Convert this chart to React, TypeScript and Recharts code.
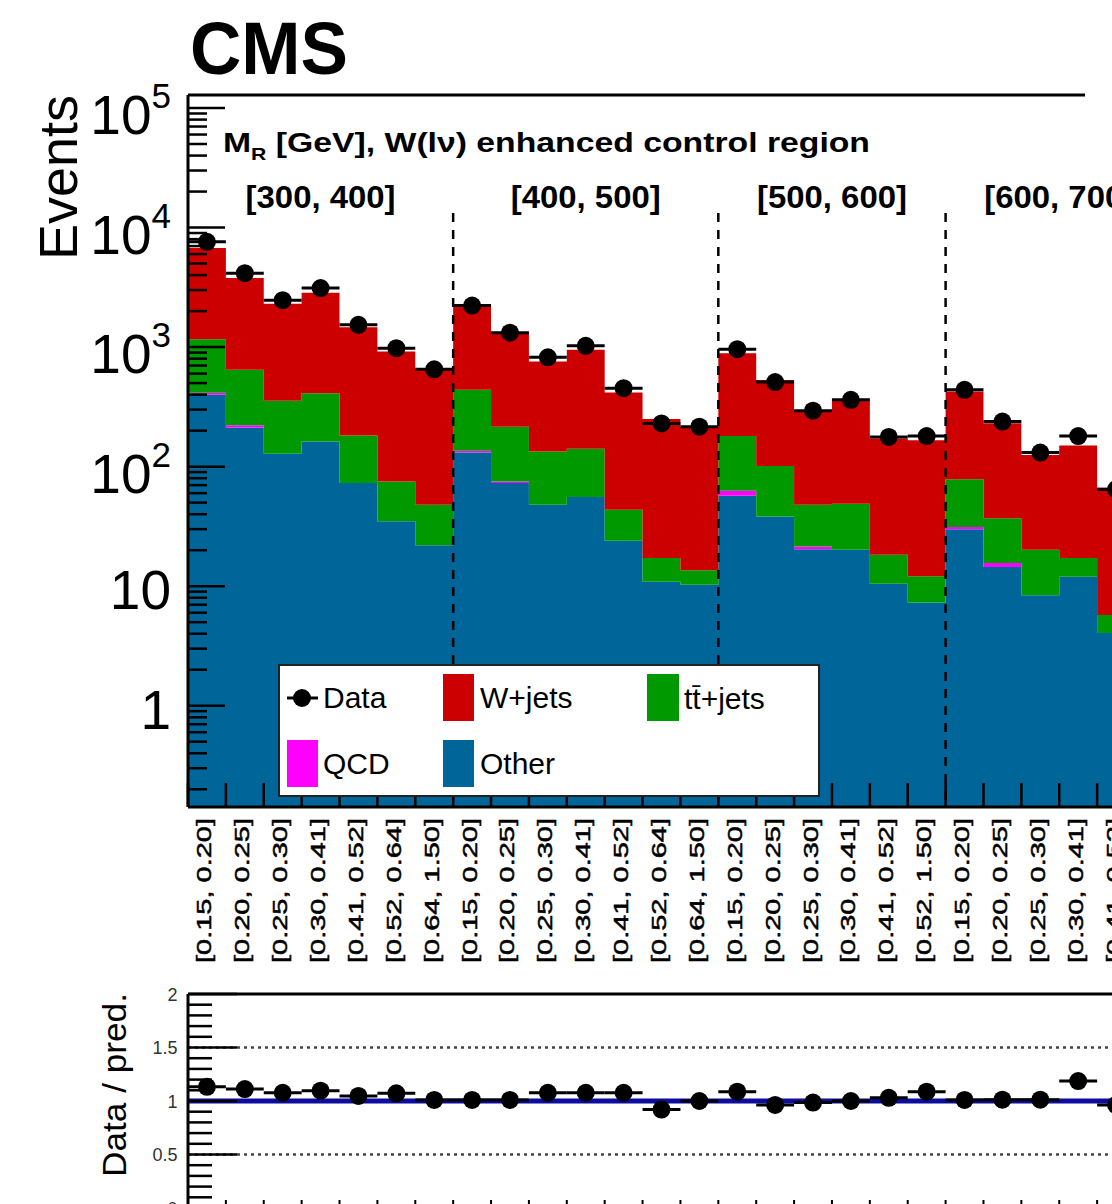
import React from "react";
import {
  ComposedChart,
  Area,
  Scatter,
  ErrorBar,
  XAxis,
  YAxis,
  ReferenceLine,
} from "recharts";

// M_R blocks and the R^2 bins inside each block
const mrBlocks = ["[300, 400]", "[400, 500]", "[500, 600]", "[600, 700]"];
const blockEdges = [0, 7, 14, 20, 26];

const binLabels = [
  "[0.15, 0.20]", "[0.20, 0.25]", "[0.25, 0.30]", "[0.30, 0.41]", "[0.41, 0.52]", "[0.52, 0.64]", "[0.64, 1.50]",
  "[0.15, 0.20]", "[0.20, 0.25]", "[0.25, 0.30]", "[0.30, 0.41]", "[0.41, 0.52]", "[0.52, 0.64]", "[0.64, 1.50]",
  "[0.15, 0.20]", "[0.20, 0.25]", "[0.25, 0.30]", "[0.30, 0.41]", "[0.41, 0.52]", "[0.52, 1.50]",
  "[0.15, 0.20]", "[0.20, 0.25]", "[0.25, 0.30]", "[0.30, 0.41]", "[0.41, 0.52]",
];

// stacked backgrounds (bottom to top)
const other = [400, 213, 128, 162, 73, 35, 22, 131, 73, 48, 55.6, 24, 10.9, 10.3, 57, 38.3, 20.4, 20.2, 10.5, 7.3, 30, 14.5, 8.4, 12, 4.05];
const qcd = [15, 9, 0, 0, 0, 0, 0, 5, 2, 0, 0, 0, 0, 0, 5.8, 0, 1.1, 0, 0, 0, 1.2, 1.1, 0, 0, 0];
const ttjets = [750, 423, 227, 250, 109, 40, 26, 303, 141, 86, 85.4, 19.5, 6.3, 3.3, 118, 62.7, 26.5, 28.7, 7.8, 4.8, 47.4, 21.4, 11.8, 5.2, 1.7];
const wjets = [5585, 3145, 1945, 2440, 1284, 843, 597, 1760, 1084, 623, 807, 374, 233, 202, 708, 429, 250, 313, 154, 154, 346, 194, 105, 133, 61];

const dataCounts = [7590, 4150, 2470, 3120, 1535, 980, 652, 2225, 1320, 822, 1024, 453, 230, 216, 960, 510, 294, 362, 177, 180, 439, 238, 131, 180, 64.5];
const ratio = [1.133, 1.112, 1.077, 1.096, 1.047, 1.072, 1.01, 1.01, 1.01, 1.077, 1.077, 1.077, 0.92, 1.0, 1.087, 0.963, 0.985, 1.0, 1.03, 1.087, 1.01, 1.012, 1.012, 1.186, 0.963];

const yMajorTicks = [1, 10, 100, 1000, 10000, 100000];
const yMajorLabels = [["1", ""], ["10", ""], ["10", "2"], ["10", "3"], ["10", "4"], ["10", "5"]];
const ratioMajorTicks = [0, 0.5, 1, 1.5, 2];
const ratioMajorLabels = ["0", "0.5", "1", "1.5", "2"];

const FONT = '"Liberation Sans", Arial, Helvetica, sans-serif';
const RED = "#cc0000";
const GREEN = "#009900";
const BLUE = "#006699";
const MAGENTA = "#ff00ff";

const PLOT_LEFT = 188;
const BIN_W = 37.88;
const N_SLOTS = 26;
const PLOT_W = N_SLOTS * BIN_W;
const CHART_W = Math.ceil(PLOT_LEFT + PLOT_W) + 10;

const MAIN_TOP = 95;
const MAIN_BOTTOM = 807;
const MAIN_H = 990;
const Y_MIN = 0.1421;
const Y_MAX = 128500;

const RATIO_TOP = 960;
const RATIO_PLOT_TOP = 34;
const RATIO_PLOT_H = 214;
const RATIO_H = 260;

const nBins = binLabels.length;

const stepRows = Array.from({ length: nBins + 1 }, (_, k) => {
  const i = Math.min(k, nBins - 1);
  const o = other[i];
  const q = o + qcd[i];
  const t = q + ttjets[i];
  const w = t + wjets[i];
  return { x: k, otherBand: [Y_MIN, o], qcdBand: [o, q], ttBand: [q, t], wBand: [t, w] };
});

const pointRows = dataCounts.map((d, i) => ({ x: i + 0.5, data: d, xerr: 0.5 }));
const ratioRows = ratio.map((r, i) => ({ x: i + 0.5, ratio: r, xerr: 0.5 }));

const edgeTicks = Array.from({ length: nBins + 1 }, (_, i) => i);
const mainXTicks = [...edgeTicks, ...binLabels.map((_, i) => i + 0.5)];

const yTicks: number[] = [...yMajorTicks];
for (let d = 0.1; d < Y_MAX; d *= 10) {
  for (let m = 2; m <= 9; m++) {
    const v = m * d;
    if (v > Y_MIN && v < Y_MAX) yTicks.push(v);
  }
}
const ratioTicks = Array.from({ length: 21 }, (_, i) => Math.round(i) / 10);

const xPix = (v: number) => PLOT_LEFT + v * BIN_W;

const BinTick = (props: any) => {
  const { x, payload } = props;
  const v = payload.value;
  if (Number.isInteger(v)) {
    return <line x1={x} x2={x} y1={MAIN_BOTTOM} y2={MAIN_BOTTOM - 24} stroke="#000" strokeWidth={2.5} />;
  }
  const label = binLabels[Math.floor(v)];
  return (
    <text
      transform={`translate(${x + 4.5}, ${MAIN_BOTTOM + 11}) rotate(-90)`}
      textAnchor="end"
      fontFamily={FONT}
      fontSize={21}
      textLength={145}
      lengthAdjust="spacingAndGlyphs"
      fill="#000"
      stroke="#000"
      strokeWidth={0.5}
    >
      {label}
    </text>
  );
};

const LogTick = (props: any) => {
  const { y, payload } = props;
  const v = payload.value;
  const idx = yMajorTicks.indexOf(v);
  const major = idx >= 0;
  return (
    <g>
      <line x1={PLOT_LEFT} x2={PLOT_LEFT + (major ? 37 : 19)} y1={y} y2={y} stroke="#000" strokeWidth={2.5} />
      {major && (
        <text x={171} y={y + (yMajorLabels[idx][1] ? 26 : 23)} textAnchor="end" fontFamily={FONT} fontSize={55} fill="#000">
          {yMajorLabels[idx][0]}
          {yMajorLabels[idx][1] && (
            <tspan fontSize={35} dy={-26}>
              {yMajorLabels[idx][1]}
            </tspan>
          )}
        </text>
      )}
    </g>
  );
};

const RatioYTick = (props: any) => {
  const { y, payload } = props;
  const v = payload.value;
  const idx = ratioMajorTicks.indexOf(v);
  const major = idx >= 0;
  return (
    <g>
      <line x1={PLOT_LEFT} x2={PLOT_LEFT + (major ? 49 : 24)} y1={y} y2={y} stroke="#000" strokeWidth={2.5} />
      {major && (
        <text x={177.5} y={y + 6.5} textAnchor="end" fontFamily={FONT} fontSize={18} fill="#333">
          {ratioMajorLabels[idx]}
        </text>
      )}
    </g>
  );
};

const RatioXTick = (props: any) => {
  const { x } = props;
  const bottom = RATIO_PLOT_TOP + RATIO_PLOT_H;
  return <line x1={x} x2={x} y1={bottom} y2={bottom - 8} stroke="#000" strokeWidth={2} />;
};

const Dot = (p: any) => <circle cx={p.cx} cy={p.cy} r={9} fill="#000" />;

const App: React.FC = () => {
  return (
    <div
      style={{
        position: "fixed",
        left: 0,
        top: 0,
        width: 1112,
        height: 1204,
        overflow: "hidden",
        background: "#fff",
      }}
    >
      <div style={{ position: "absolute", left: 0, top: 0 }}>
        <ComposedChart
          width={CHART_W}
          height={MAIN_H}
          data={stepRows}
          margin={{ top: MAIN_TOP, right: CHART_W - PLOT_LEFT - PLOT_W, bottom: 0, left: 0 }}
        >
          <Area type="stepAfter" dataKey="otherBand" fill={BLUE} fillOpacity={1} stroke="none" isAnimationActive={false} />
          <Area type="stepAfter" dataKey="qcdBand" fill={MAGENTA} fillOpacity={1} stroke="none" isAnimationActive={false} />
          <Area type="stepAfter" dataKey="ttBand" fill={GREEN} fillOpacity={1} stroke="none" isAnimationActive={false} />
          <Area type="stepAfter" dataKey="wBand" fill={RED} fillOpacity={1} stroke="none" isAnimationActive={false} />
          {blockEdges.slice(1, -1).map((e) => (
            <ReferenceLine
              key={e}
              segment={[{ x: e, y: 13240 }, { x: e, y: Y_MIN }]}
              stroke="#000"
              strokeWidth={2.5}
              strokeDasharray="9 8"
            />
          ))}
          <ReferenceLine segment={[{ x: 0, y: Y_MAX }, { x: 23.68, y: Y_MAX }]} stroke="#000" strokeWidth={3} />
          <Scatter data={pointRows} dataKey="data" shape={Dot} isAnimationActive={false}>
            <ErrorBar dataKey="xerr" direction="x" width={0} stroke="#000" strokeWidth={3} />
          </Scatter>
          <XAxis
            type="number"
            dataKey="x"
            domain={[0, N_SLOTS]}
            allowDataOverflow
            ticks={mainXTicks}
            interval={0}
            tickLine={false}
            tickSize={0}
            tickMargin={0}
            height={MAIN_H - MAIN_BOTTOM}
            tick={BinTick}
            axisLine={{ stroke: "#000", strokeWidth: 3 }}
          />
          <YAxis
            type="number"
            scale="log"
            domain={[Y_MIN, Y_MAX]}
            allowDataOverflow
            ticks={yTicks}
            interval={0}
            tickLine={false}
            tickSize={0}
            tickMargin={0}
            width={PLOT_LEFT}
            tick={LogTick}
            axisLine={{ stroke: "#000", strokeWidth: 3 }}
          />
        </ComposedChart>
      </div>

      <div style={{ position: "absolute", left: 0, top: RATIO_TOP }}>
        <ComposedChart
          width={CHART_W}
          height={RATIO_H}
          data={ratioRows}
          margin={{ top: RATIO_PLOT_TOP, right: CHART_W - PLOT_LEFT - PLOT_W, bottom: 0, left: 0 }}
        >
          <ReferenceLine y={1.5} stroke="#444" strokeWidth={2.5} strokeDasharray="3 4" />
          <ReferenceLine y={0.5} stroke="#444" strokeWidth={2.5} strokeDasharray="3 4" />
          <ReferenceLine y={1} stroke="#0c0c9e" strokeWidth={5} />
          <ReferenceLine y={2} stroke="#000" strokeWidth={3} />
          <Scatter data={ratioRows} dataKey="ratio" shape={Dot} isAnimationActive={false}>
            <ErrorBar dataKey="xerr" direction="x" width={0} stroke="#000" strokeWidth={3} />
          </Scatter>
          <XAxis
            type="number"
            dataKey="x"
            domain={[0, N_SLOTS]}
            allowDataOverflow
            ticks={edgeTicks}
            interval={0}
            tickLine={false}
            tickSize={0}
            tickMargin={0}
            height={RATIO_H - RATIO_PLOT_TOP - RATIO_PLOT_H}
            tick={RatioXTick}
            axisLine={{ stroke: "#000", strokeWidth: 3 }}
          />
          <YAxis
            type="number"
            domain={[0, 2]}
            allowDataOverflow
            ticks={ratioTicks}
            interval={0}
            tickLine={false}
            tickSize={0}
            tickMargin={0}
            width={PLOT_LEFT}
            tick={RatioYTick}
            axisLine={{ stroke: "#000", strokeWidth: 3 }}
          />
        </ComposedChart>
      </div>

      <svg
        width={1112}
        height={1204}
        style={{ position: "absolute", left: 0, top: 0, pointerEvents: "none" }}
        fontFamily={FONT}
      >
        <text x={190} y={74} fontSize={74} fontWeight="bold" textLength={158} lengthAdjust="spacingAndGlyphs">
          CMS
        </text>
        <text transform="translate(77, 95) rotate(-90)" textAnchor="end" fontSize={54} textLength={165} lengthAdjust="spacingAndGlyphs">
          Events
        </text>
        <text x={223} y={152} fontSize={27} fontWeight="bold" textLength={647} lengthAdjust="spacingAndGlyphs">
          M<tspan fontSize={17} dy={8}>R</tspan>
          <tspan dy={-8}> [GeV], W(lν) enhanced control region</tspan>
        </text>
        {mrBlocks.map((b, j) => (
          <text
            key={b}
            x={xPix((blockEdges[j] + blockEdges[j + 1]) / 2)}
            y={208}
            textAnchor="middle"
            fontSize={31}
            fontWeight="bold"
            textLength={150}
            lengthAdjust="spacingAndGlyphs"
          >
            {b}
          </text>
        ))}

        {/* legend */}
        <rect x={279} y={665} width={540} height={131} fill="#fff" stroke="#222" strokeWidth={2} />
        <line x1={287} x2={318} y1={698} y2={698} stroke="#000" strokeWidth={3} />
        <circle cx={302} cy={698} r={9} fill="#000" />
        <text x={323} y={708} fontSize={30}>Data</text>
        <rect x={443} y={674} width={31} height={47} fill={RED} />
        <text x={480} y={708} fontSize={30}>W+jets</text>
        <rect x={647} y={674} width={32} height={47} fill={GREEN} />
        <text x={684} y={709} fontSize={30}>tt̄+jets</text>
        <rect x={287} y={740} width={31} height={47} fill={MAGENTA} />
        <text x={323} y={774} fontSize={30}>QCD</text>
        <rect x={443} y={740} width={31} height={47} fill={BLUE} />
        <text x={480} y={774} fontSize={30}>Other</text>

        <text transform="translate(126, 993) rotate(-90)" textAnchor="end" fontSize={33} textLength={184} lengthAdjust="spacingAndGlyphs">
          Data / pred.
        </text>
      </svg>
    </div>
  );
};

export default App;
